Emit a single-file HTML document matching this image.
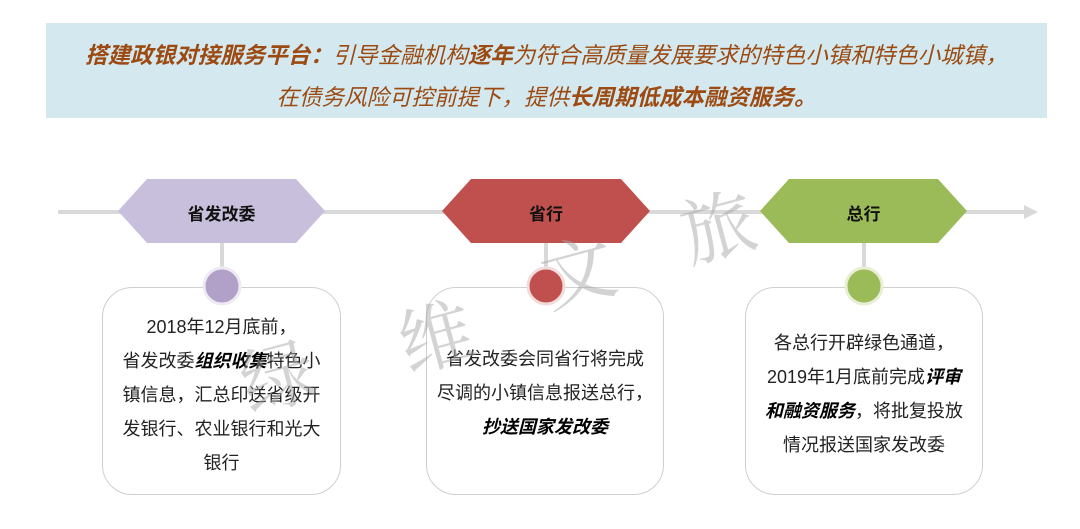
<!DOCTYPE html>
<html><head><meta charset="utf-8"><style>
html,body{margin:0;padding:0;width:1080px;height:529px;background:#fff;overflow:hidden;font-family:"Liberation Sans","Noto Sans CJK SC",sans-serif;}
.banner{position:absolute;left:46px;top:23px;width:1001px;height:95px;background:#d3e9ef;}
.bl{position:absolute;left:0;width:1001px;text-align:center;font-size:22.5px;font-style:italic;color:#9c4a12;white-space:nowrap;}
.bl b{font-weight:bold;}
.box{position:absolute;top:287px;height:208px;border:1px solid #cfcfcf;border-radius:30px;background:#fff;box-sizing:border-box;}
.txt{position:absolute;text-align:center;font-size:18px;line-height:34px;color:#222;white-space:nowrap;}
.txt b{font-style:italic;font-weight:bold;color:#000;}
.wm{position:absolute;font-family:"Noto Serif CJK SC",serif;font-size:74px;color:#a9a9a9;opacity:0.5;}
.hl{position:absolute;font-size:17px;font-weight:bold;color:#111;text-align:center;}
</style></head><body>
<div class="banner">
<div class="bl" style="top:15px;"><b>搭建政银对接服务平台：</b>引导金融机构<b>逐年</b>为符合高质量发展要求的特色小镇和特色小城镇，</div>
<div class="bl" style="top:57px;">在债务风险可控前提下，提供<b>长周期低成本融资服务。</b></div>
</div>
<svg width="1080" height="529" style="position:absolute;left:0;top:0">
<line x1="58" y1="212" x2="1028" y2="212" stroke="#d9d9d9" stroke-width="4"/>
<polygon points="1024,205 1038,212 1024,219" fill="#d9d9d9"/>
<line x1="222" y1="243" x2="222" y2="285" stroke="#d9d9d9" stroke-width="4"/>
<line x1="546" y1="243" x2="546" y2="285" stroke="#d9d9d9" stroke-width="4"/>
<line x1="864" y1="243" x2="864" y2="285" stroke="#d9d9d9" stroke-width="4"/>
<polygon points="118,211 147,179 296,179 325,211 296,243 147,243" fill="#c8bfdc"/>
<polygon points="442,211 471,179 621,179 650,211 621,243 471,243" fill="#c0504d"/>
<polygon points="760,211 789,179 938,179 967,211 938,243 789,243" fill="#9bbb59"/>
</svg>
<div class="box" style="left:102px;width:239px;"></div>
<div class="box" style="left:426px;width:238px;"></div>
<div class="box" style="left:745px;width:238px;"></div>
<svg width="1080" height="529" style="position:absolute;left:0;top:0">
<circle cx="222" cy="286" r="18" fill="#b1a0c7" stroke="#eeeaf3" stroke-width="3"/>
<circle cx="546" cy="286" r="18" fill="#c0504d" stroke="#f2dcdb" stroke-width="3"/>
<circle cx="864" cy="286" r="18" fill="#9bbb59" stroke="#e6eed5" stroke-width="3"/>
</svg>
<div class="hl" style="left:118px;width:207px;top:200px;">省发改委</div>
<div class="hl" style="left:442px;width:208px;top:200px;">省行</div>
<div class="hl" style="left:760px;width:207px;top:200px;">总行</div>
<div class="txt" style="left:102px;width:239px;top:310px;">2018年12月底前，<br>省发改委<b>组织收集</b>特色小<br>镇信息，汇总印送省级开<br>发银行、农业银行和光大<br>银行</div>
<div class="txt" style="left:426px;width:238px;top:342px;">省发改委会同省行将完成<br>尽调的小镇信息报送总行，<br><b>抄送国家发改委</b></div>
<div class="txt" style="left:745px;width:238px;top:326px;">各总行开辟绿色通道，<br>2019年1月底前完成<b>评审</b><br><b>和融资服务</b>，将批复投放<br>情况报送国家发改委</div>
<div class="wm" style="left:240px;top:320px;transform:rotate(-15deg);">绿</div>
<div class="wm" style="left:398px;top:280px;transform:rotate(-15deg);">维</div>
<div class="wm" style="left:540px;top:215px;transform:rotate(-15deg);">文</div>
<div class="wm" style="left:680px;top:170px;transform:rotate(-15deg);">旅</div>
</body></html>
